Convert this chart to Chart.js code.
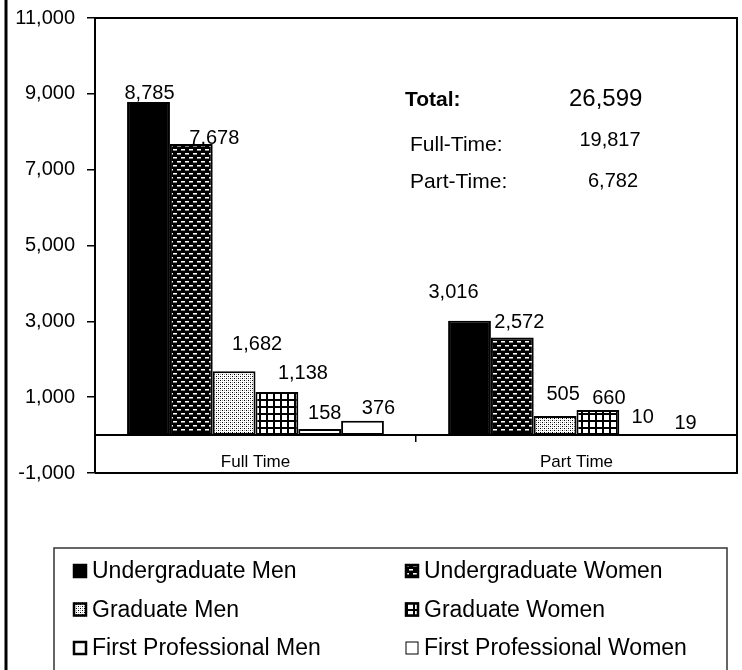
<!DOCTYPE html>
<html>
<head>
<meta charset="utf-8">
<script src="https://cdn.jsdelivr.net/npm/chart.js@4.4.1/dist/chart.umd.min.js"></script>
<style>
    html, body { margin: 0; padding: 0; background: #fff; }
    #wrap { width: 742px; height: 670px; position: relative; }
</style>
</head>
<body>
<div id="wrap"><canvas id="graficoPrincipal" width="742" height="670"></canvas></div>
<script>
"use strict";

// datos
const categorias = ["Full Time", "Part Time"];
const series = [
    "Undergraduate Men",
    "Undergraduate Women",
    "Graduate Men",
    "Graduate Women",
    "First Professional Men",
    "First Professional Women"
];
const ugMen = [8785, 3016];
const ugWomen = [7678, 2572];
const gradMen = [1682, 505];
const gradWomen = [1138, 660];
const fpMen = [158, 10];
const fpWomen = [376, 19];
const yTicks = [-1000, 1000, 3000, 5000, 7000, 9000, 11000];

// desplazamiento de etiquetas (px) respecto al tope de cada barra
const labelOffsets = [
    [[1, -9], [-16, -28]],
    [[23, -5], [7, -15]],
    [[23, -27], [8, -21]],
    [[26, -18], [11, -12]],
    [[5, -16], [2, -17]],
    [[16, -12], [2, -11]]
];

const FONT = "'Liberation Sans', Arial, sans-serif";

function fmt(v) {
    return v.toLocaleString("en-US");
}

function patron(w, h, dibujar) {
    const c = document.createElement("canvas");
    c.width = w;
    c.height = h;
    const g = c.getContext("2d");
    dibujar(g);
    return g.createPattern(c, "repeat");
}

const rellenos = [
    "#000",
    patron(8, 8, function (g) {
        g.fillStyle = "#000";
        g.fillRect(0, 0, 8, 8);
        g.fillStyle = "#fff";
        g.fillRect(1, 1, 4, 1);
        g.fillRect(5, 5, 3, 1);
        g.fillRect(0, 5, 1, 1);
        g.fillStyle = "#888";
        g.fillRect(1, 2, 4, 1);
        g.fillRect(5, 6, 3, 1);
        g.fillRect(0, 6, 1, 1);
    }),
    patron(4, 4, function (g) {
        g.fillStyle = "#fff";
        g.fillRect(0, 0, 4, 4);
        g.fillStyle = "#000";
        g.fillRect(0, 0, 1, 1);
        g.fillRect(2, 2, 1, 1);
        g.fillStyle = "#999";
        g.fillRect(2, 0, 1, 1);
        g.fillRect(0, 2, 1, 1);
    }),
    patron(7, 7, function (g) {
        g.fillStyle = "#fff";
        g.fillRect(0, 0, 7, 7);
        g.fillStyle = "#000";
        g.fillRect(0, 0, 7, 2);
        g.fillRect(0, 0, 2, 7);
    }),
    patron(16, 8, function (g) {
        g.fillStyle = "#fff";
        g.fillRect(0, 0, 16, 8);
        g.fillStyle = "#000";
        g.fillRect(8, 3, 2, 2);
    }),
    "#fff"
];

const valores = [ugMen, ugWomen, gradMen, gradWomen, fpMen, fpWomen];

const sum = function (idx) {
    return valores.reduce(function (a, s) { return a + s[idx]; }, 0);
};

// etiquetas de datos
const etiquetasPlugin = {
    id: "etiquetas",
    afterDatasetsDraw(chart) {
        const ctx = chart.ctx;
        ctx.save();
        ctx.font = "20px " + FONT;
        ctx.fillStyle = "#000";
        ctx.textAlign = "center";
        ctx.textBaseline = "middle";
        chart.data.datasets.forEach(function (ds, i) {
            chart.getDatasetMeta(i).data.forEach(function (bar, j) {
                const off = labelOffsets[i][j];
                ctx.fillText(fmt(ds.data[j]), bar.x + off[0], bar.y + off[1]);
            });
        });
        ctx.restore();
    }
};

// marco, totales y leyenda
const marcoPlugin = {
    id: "marco",
    afterDraw(chart) {
        const ctx = chart.ctx;
        const a = chart.chartArea;
        ctx.save();

        ctx.strokeStyle = "#000";
        ctx.lineWidth = 2;
        ctx.beginPath();
        ctx.moveTo(a.left, a.top);
        ctx.lineTo(a.right, a.top);
        ctx.lineTo(a.right, a.bottom);
        ctx.lineTo(a.left, a.bottom);
        ctx.stroke();

        ctx.lineWidth = 3;
        ctx.beginPath();
        ctx.moveTo(6, 0);
        ctx.lineTo(6, 670);
        ctx.stroke();

        // totales
        const ft = sum(0);
        const pt = sum(1);
        ctx.fillStyle = "#000";
        ctx.textBaseline = "middle";
        ctx.textAlign = "left";
        ctx.font = "bold 21px " + FONT;
        ctx.fillText("Total:", 405, 100);
        ctx.font = "24px " + FONT;
        ctx.fillText(fmt(ft + pt), 569, 99);
        ctx.font = "21px " + FONT;
        ctx.fillText("Full-Time:", 410, 145);
        ctx.fillText("Part-Time:", 410, 182);
        ctx.font = "20px " + FONT;
        ctx.textAlign = "center";
        ctx.fillText(fmt(ft), 610, 140);
        ctx.fillText(fmt(pt), 613, 181);

        // leyenda
        ctx.lineWidth = 1.5;
        ctx.strokeStyle = "#333";
        ctx.strokeRect(54, 548, 673, 130);

        ctx.font = "23px " + FONT;
        ctx.textAlign = "left";
        series.forEach(function (nombre, i) {
            const x = (i % 2) ? 405 : 73;
            const cy = 571 + Math.floor(i / 2) * 38.5;
            ctx.fillStyle = rellenos[i];
            ctx.fillRect(x, cy - 7, 14, 14);
            ctx.strokeStyle = "#000";
            ctx.lineWidth = (i === 5) ? 1 : 2.5;
            ctx.strokeRect(x + 1, cy - 6, 12, 12);
            ctx.fillStyle = "#000";
            ctx.fillText(nombre, x + 19, cy + 1);
        });

        ctx.restore();
    }
};

const canvas = document.getElementById("graficoPrincipal");

new Chart(canvas, {
    type: "bar",
    data: {
        labels: categorias,
        datasets: series.map(function (nombre, i) {
            return {
                label: nombre,
                data: valores[i],
                backgroundColor: rellenos[i],
                borderColor: "#000",
                borderWidth: 2,
                borderSkipped: false
            };
        })
    },
    options: {
        responsive: false,
        devicePixelRatio: 1,
        animation: false,
        layout: {
            padding: { left: 0, right: 5, top: 18, bottom: 197 }
        },
        datasets: {
            bar: {
                categoryPercentage: 0.8,
                barPercentage: 1
            }
        },
        plugins: {
            legend: { display: false },
            tooltip: { enabled: false }
        },
        scales: {
            x: {
                position: { y: 0 },
                grid: {
                    offset: true,
                    drawOnChartArea: false,
                    drawTicks: true,
                    tickLength: 6,
                    color: "#000",
                    lineWidth: 1.5
                },
                border: { display: true, color: "#000", width: 2 },
                ticks: {
                    color: "#000",
                    padding: 11,
                    font: { family: FONT, size: 17 }
                }
            },
            y: {
                min: -1000,
                max: 11000,
                afterBuildTicks(scale) {
                    scale.ticks = yTicks.map(function (v) { return { value: v }; });
                },
                afterFit(scale) {
                    scale.width = 95;
                    scale.paddingTop = 0;
                    scale.paddingBottom = 0;
                },
                grid: {
                    drawOnChartArea: false,
                    tickLength: 8,
                    color: "#000",
                    lineWidth: 1.5
                },
                border: { display: true, color: "#000", width: 2 },
                ticks: {
                    color: "#000",
                    padding: 12,
                    font: { family: FONT, size: 20 },
                    callback: function (v) { return fmt(v); }
                }
            }
        }
    },
    plugins: [etiquetasPlugin, marcoPlugin]
});
</script>
</body>
</html>
